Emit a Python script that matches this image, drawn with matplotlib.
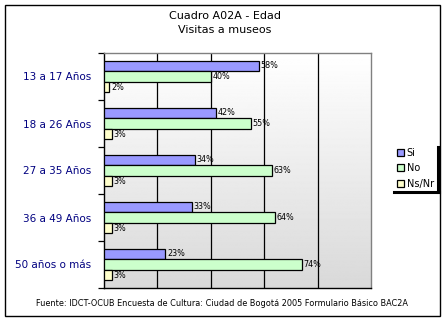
#!/usr/bin/env python3

import numpy as np
import matplotlib.pyplot as plt
from matplotlib.lines import Line2D
from matplotlib.patches import Rectangle

categories = ['13 a 17 Años', '18 a 26 Años', '27 a 35 Años', '36 a 49 Años', '50 años o más']
si = [58, 42, 34, 33, 23]
no = [40, 55, 63, 64, 74]
nsnr = [2, 3, 3, 3, 3]
series_names = ['Si', 'No', 'Ns/Nr']
colors = ['#9999ff', '#ccffcc', '#ffffcc']

fig = plt.figure(figsize=(4.47, 3.23), dpi=100)
ax = fig.add_axes([104 / 447, 1 - 288 / 323, 267 / 447, 235 / 323])

# gradient background of plot area
grad = np.linspace(1.0, 0.85, 256).reshape(-1, 1)
ax.imshow(grad, cmap='gray', vmin=0, vmax=1, aspect='auto',
          extent=[0, 100, len(categories) - 0.5, -0.5], zorder=0)

y = np.arange(len(categories))
h = 0.224
for i, (vals, name, c) in enumerate(zip([si, no, nsnr], series_names, colors)):
    pos = y + (i - 1) * h
    ax.barh(pos, vals, height=h, color=c, edgecolor='black', linewidth=0.9,
            label=name, zorder=3)
    for p, v in zip(pos, vals):
        ax.text(v + 0.6, p, f"{v}%", fontsize=5.8, va='center', ha='left', zorder=4)

ax.set_xlim(0, 100)
ax.set_ylim(len(categories) - 0.5, -0.5)
ax.set_xticks([20, 40, 60, 80])
ax.set_xticklabels([])
ax.tick_params(axis='x', length=0)
ax.grid(axis='x', color='black', linewidth=0.9, zorder=1)
ax.set_axisbelow(True)

ax.set_yticks(np.arange(len(categories) + 1) - 0.5)
ax.set_yticklabels([])
ax.tick_params(axis='y', which='major', length=4, width=0.9, color='black')
ax.set_yticks(y, minor=True)
ax.set_yticklabels(categories, minor=True, fontsize=7.5, color='#000080')
ax.tick_params(axis='y', which='minor', length=0, pad=9)

for s in ['left', 'bottom']:
    ax.spines[s].set_color('black')
    ax.spines[s].set_linewidth(1)
for s in ['top', 'right']:
    ax.spines[s].set_color('#808080')
    ax.spines[s].set_linewidth(1)

fig.text(0.503, 1 - 16 / 323, 'Cuadro A02A - Edad', ha='center', va='center', fontsize=8)
fig.text(0.503, 1 - 30 / 323, 'Visitas a museos', ha='center', va='center', fontsize=8)
fig.text(0.497, 1 - 303 / 323,
         'Fuente: IDCT-OCUB Encuesta de Cultura: Ciudad de Bogotá 2005 Formulario Básico BAC2A',
         ha='center', va='center', fontsize=5.9)

leg = fig.legend(loc='upper left', bbox_to_anchor=(393 / 447, 1 - 144 / 323),
                 fontsize=7, frameon=False, handlelength=0.7, handleheight=0.7,
                 handletextpad=0.3, labelspacing=0.55, borderaxespad=0)

# legend shadow
fig.add_artist(Line2D([438 / 447, 438 / 447], [1 - 147 / 323, 1 - 192 / 323],
                      color='black', linewidth=2.2))
fig.add_artist(Line2D([394 / 447, 439 / 447], [1 - 192 / 323, 1 - 192 / 323],
                      color='black', linewidth=2.2))

# outer border
fig.add_artist(Rectangle((5 / 447, 1 - 316 / 323), 435 / 447, 311 / 323,
                         transform=fig.transFigure, fill=False,
                         edgecolor='black', linewidth=1))

fig.savefig('out.png', dpi=100)
